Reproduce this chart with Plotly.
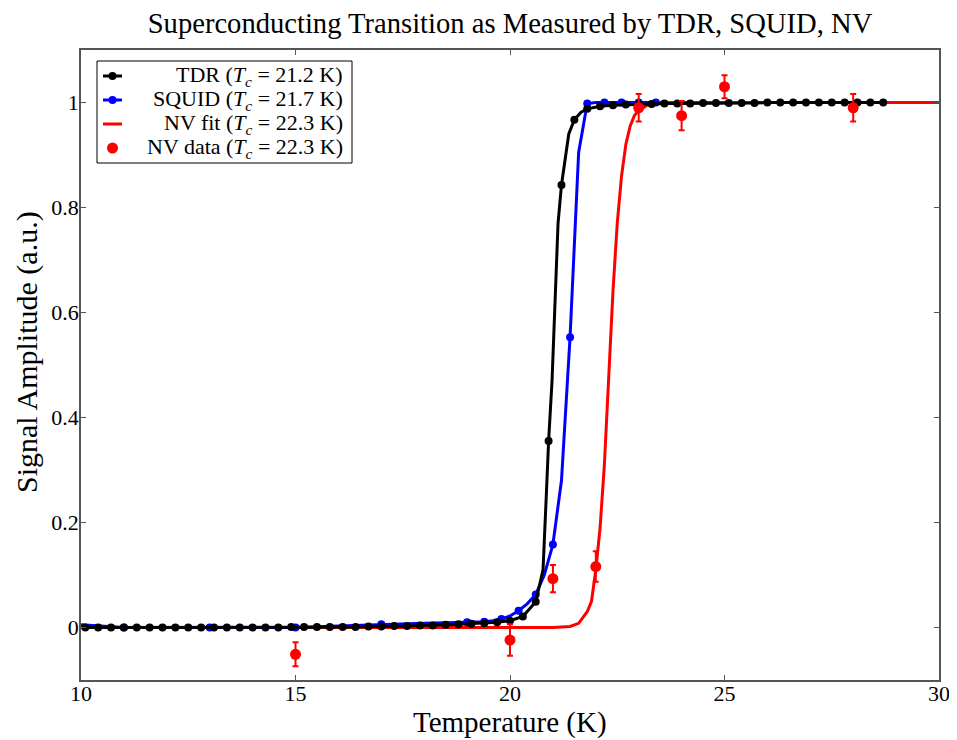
import plotly.graph_objects as go

# ---------------- data ----------------
TDR_T = [10.1, 10.4, 10.7, 11.0, 11.3, 11.6, 11.9, 12.2, 12.5, 12.8, 13.1, 13.4, 13.7, 14.0,
         14.3, 14.6, 14.9, 15.2, 15.5, 15.8, 16.1, 16.4, 16.7, 17.0, 17.3, 17.6, 17.9, 18.2,
         18.5, 18.8, 19.1, 19.4, 19.7, 20.0, 20.3, 20.6, 20.9, 21.2, 21.5, 21.8, 22.1, 22.4,
         22.7, 23.0, 23.3, 23.6, 23.9, 24.2, 24.5, 24.8, 25.1, 25.4, 25.7, 26.0, 26.3, 26.6,
         26.9, 27.2, 27.5, 27.8, 28.1, 28.4, 28.7]
TDR_S = [0.0, 0.0, 0.0, 0.0, 0.0, 0.0, 0.0, 0.0, 0.0, 0.0, 0.0, 0.0, 0.0, 0.0,
         0.0, 0.0, 0.001, 0.001, 0.001, 0.001, 0.001, 0.001, 0.002, 0.002, 0.003, 0.003, 0.004, 0.004,
         0.005, 0.006, 0.007, 0.008, 0.010, 0.013, 0.021, 0.049, 0.355, 0.843, 0.967, 0.988, 0.993, 0.995,
         0.996, 0.997, 0.997, 0.998, 0.998, 0.998, 0.999, 0.999, 0.999, 0.999, 0.999, 1.0, 1.0, 1.0,
         1.0, 1.0, 1.0, 1.0, 1.0, 1.0, 1.0]
# extra (unmarked) vertices of the TDR curve inside the transition
TDR_CURVE_T = [20.77, 20.84, 20.98, 21.07, 21.12, 21.37, 21.65]
TDR_CURVE_S = [0.11, 0.24, 0.47, 0.66, 0.77, 0.94, 0.981]

SQUID_T = [10, 11, 12, 13, 14, 15, 16, 17, 18, 19, 19.2, 19.4, 19.6, 19.8, 20.0, 20.2, 20.4,
           20.6, 20.8, 21.0, 21.2, 21.4, 21.6, 21.8, 22.0, 22.2, 22.4, 22.6, 22.8, 23.0, 23.2, 23.4]
SQUID_S = [0.005, 0.0, 0.0, 0.0, 0.0, 0.0, 0.003, 0.006, 0.008, 0.010, 0.010, 0.011, 0.013, 0.016,
           0.022, 0.032, 0.045, 0.063, 0.10, 0.158, 0.28, 0.553, 0.905, 0.998, 1.0, 1.0, 1.0, 1.0,
           1.0, 1.0, 1.0, 1.0]

NVFIT_T = [10, 21.0, 21.4, 21.6, 21.8, 21.9, 22.0, 22.1, 22.2, 22.3, 22.4, 22.5, 22.6, 22.7,
           22.8, 22.9, 23.0, 23.2, 23.5, 30]
NVFIT_S = [0.0, 0.0, 0.002, 0.008, 0.03, 0.05, 0.11, 0.19, 0.31, 0.48, 0.64, 0.77, 0.86, 0.92,
           0.955, 0.975, 0.985, 0.995, 1.0, 1.0]

NV_T = [15, 20, 21, 22, 23, 24, 25, 28]
NV_S = [-0.051, -0.024, 0.093, 0.116, 0.99, 0.975, 1.03, 0.99]
NV_ERR = [0.023, 0.03, 0.026, 0.029, 0.026, 0.028, 0.022, 0.026]

X_TICKS = [10, 15, 20, 25, 30]
Y_TICKS = [0, 0.2, 0.4, 0.6, 0.8, 1.0]
Y_TICK_TEXT = ["0", "0.2", "0.4", "0.6", "0.8", "1"]

LEGEND_LABELS = ["TDR (<i>T</i><sub><i>c</i></sub> = 21.2 K)",
                 "SQUID (<i>T</i><sub><i>c</i></sub> = 21.7 K)",
                 "NV fit (<i>T</i><sub><i>c</i></sub> = 22.3 K)",
                 "NV data (<i>T</i><sub><i>c</i></sub> = 22.3 K)"]
LEGEND_COLORS = ["black", "blue", "red", "red"]
LEGEND_KINDS = ["line+marker", "line+marker", "line", "marker"]

TITLE = "Superconducting Transition as Measured by TDR, SQUID, NV"
XLABEL = "Temperature (K)"
YLABEL = "Signal Amplitude (a.u.)"

FONT = "Liberation Serif"

# ---------------- layout geometry (screen pixels) ----------------
WIN_W, WIN_H = 957, 740
OFF = 8                      # page body margin
W, H = WIN_W - OFF, WIN_H - OFF
PL, PR, PT, PB = 81, 939, 50, 680  # plot-area edges on screen


def px_x(x):
    return (x - PL) / (PR - PL)


def px_y(y):
    return (PB - y) / (PB - PT)


# ---------------- figure ----------------
fig = go.Figure()

# NV fit (drawn underneath)
fig.add_trace(go.Scatter(x=NVFIT_T, y=NVFIT_S, mode="lines",
                         line=dict(color="red", width=3), showlegend=False))

# SQUID: line through every vertex, marker on every second vertex
fig.add_trace(go.Scatter(x=SQUID_T, y=SQUID_S, mode="lines",
                         line=dict(color="blue", width=3), showlegend=False))
fig.add_trace(go.Scatter(x=SQUID_T[1::2], y=SQUID_S[1::2], mode="markers",
                         marker=dict(color="blue", size=8), showlegend=False))

# TDR: curve through markers and extra vertices
tdr_line = sorted(zip(TDR_T + TDR_CURVE_T, TDR_S + TDR_CURVE_S))
fig.add_trace(go.Scatter(x=[p[0] for p in tdr_line], y=[p[1] for p in tdr_line], mode="lines",
                         line=dict(color="black", width=3), showlegend=False))
fig.add_trace(go.Scatter(x=TDR_T, y=TDR_S, mode="markers",
                         marker=dict(color="black", size=8), showlegend=False))

# NV data
fig.add_trace(go.Scatter(x=NV_T, y=NV_S, mode="markers",
                         marker=dict(color="red", size=11),
                         error_y=dict(type="data", array=NV_ERR, color="red", thickness=2, width=3),
                         showlegend=False))

axis_common = dict(showline=True, linecolor="#555555", linewidth=1.5, mirror="ticks",
                   ticks="inside", ticklen=5, tickcolor="#555555", showgrid=False,
                   zeroline=False, automargin=False,
                   tickfont=dict(family=FONT, size=22, color="black"))

shapes = []
annotations = []

# legend box (right-aligned labels, as in the reference)
shapes.append(dict(type="rect", xref="paper", yref="paper",
                   x0=px_x(97), x1=px_x(352), y0=px_y(163), y1=px_y(61),
                   line=dict(color="black", width=1), fillcolor="white", layer="above"))
row_y = [76, 100, 124, 148]
for label, color, kind, ry in zip(LEGEND_LABELS, LEGEND_COLORS, LEGEND_KINDS, row_y):
    if "line" in kind:
        shapes.append(dict(type="line", xref="paper", yref="paper",
                           x0=px_x(103), x1=px_x(122), y0=px_y(ry), y1=px_y(ry),
                           line=dict(color=color, width=3), layer="above"))
    if "marker" in kind:
        r = 4 if kind == "line+marker" else 5.5
        shapes.append(dict(type="circle", xref="paper", yref="paper",
                           x0=px_x(112.5 - r), x1=px_x(112.5 + r),
                           y0=px_y(ry + r), y1=px_y(ry - r),
                           line=dict(color=color, width=0), fillcolor=color, layer="above"))
    annotations.append(dict(text=label, xref="paper", yref="paper",
                            x=px_x(345), y=px_y(ry), xanchor="right", yanchor="middle",
                            showarrow=False, font=dict(family=FONT, size=22, color="black")))

# axis titles
annotations.append(dict(text=XLABEL, xref="paper", yref="paper",
                        x=0.5, y=px_y(722), xanchor="center", yanchor="middle",
                        showarrow=False, font=dict(family=FONT, size=29, color="black")))
annotations.append(dict(text=YLABEL, xref="paper", yref="paper",
                        x=px_x(27), y=px_y(352), xanchor="center", yanchor="middle",
                        textangle=-90, showarrow=False,
                        font=dict(family=FONT, size=30, color="black")))

fig.update_layout(
    width=W, height=H,
    margin=dict(l=PL - OFF, r=WIN_W - PR, t=PT - OFF, b=WIN_H - PB),
    paper_bgcolor="white", plot_bgcolor="white",
    title=dict(text=TITLE, x=(510 - OFF) / W, xanchor="center", y=1 - (23 - OFF) / H,
               yanchor="middle", font=dict(family=FONT, size=28.6, color="black")),
    xaxis=dict(range=[10, 30], tickvals=X_TICKS, ticklabelstandoff=-7, **axis_common),
    yaxis=dict(range=[-0.1, 1.1], tickvals=Y_TICKS, ticktext=Y_TICK_TEXT,
               ticklabelstandoff=-4, **axis_common),
    shapes=shapes,
    annotations=annotations,
    showlegend=False,
)

fig.write_html("out.html")
